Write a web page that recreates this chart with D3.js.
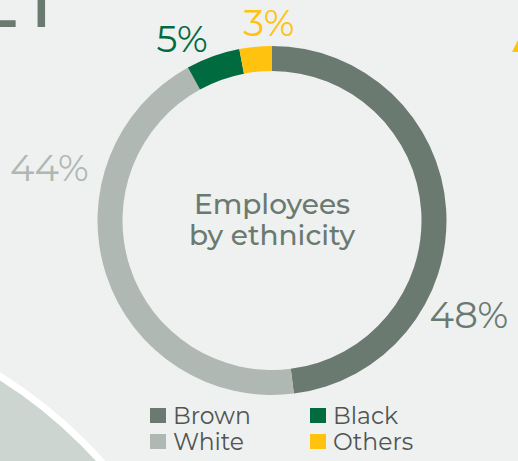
<!DOCTYPE html>
<html>
<head>
<meta charset="utf-8">
<script src="https://cdn.jsdelivr.net/npm/d3@7"></script>
<style>
  html, body { margin: 0; padding: 0; background: #eff1f0; }
  svg { display: block; }
  text { font-family: "Montserrat", "Noto Sans", "Open Sans", sans-serif; }
</style>
</head>
<body>
<svg id="chart" width="518" height="461"></svg>
<script>
// Workforce split by ethnicity (percent of employees)
const categories = ["Brown", "White", "Black", "Others"];
const shares = [48, 44, 5, 3];
const colors = ["#6b7a71", "#b0b8b4", "#006b3f", "#ffc20e"];
const labels = ["48%", "44%", "5%", "3%"];
const titleLines = ["Employees", "by ethnicity"];

const W = 518, H = 461;
const svg = d3.select("#chart");

// Decorative background shapes
svg.append("rect").attr("width", W).attr("height", H).attr("fill", "#eff1f0");
svg.append("circle")
  .attr("cx", -246).attr("cy", 771).attr("r", 465)
  .attr("fill", "#cdd5d0").attr("stroke", "#ffffff").attr("stroke-width", 7);
svg.append("text")
  .attr("x", 57).attr("y", 27)
  .attr("text-anchor", "end")
  .attr("font-size", 104).attr("font-weight", 400)
  .attr("fill", "#6b7a71")
  .text("21");
svg.append("path")
  .attr("d", "M512,52 L518,40 L518,52 Z")
  .attr("fill", "#ffc20e");

// Donut
const cx = 272, cy = 220.5;
const outerR = 174.5, innerR = 149.5;
const g = svg.append("g").attr("transform", `translate(${cx},${cy})`);

const pie = d3.pie().sort(null).value(d => d.value);
const arcs = pie(categories.map((c, i) => ({ name: c, value: shares[i], color: colors[i], label: labels[i] })));
const arc = d3.arc().innerRadius(innerR).outerRadius(outerR);

g.selectAll("path.slice")
  .data(arcs)
  .join("path")
  .attr("class", "slice")
  .attr("d", arc)
  .attr("fill", d => d.data.color);

// Percentage labels set outside the ring; angle offset (deg) and radius per slice
const labelPlacement = {
  Brown:  { shift: 29,  r: 218 },
  White:  { shift: 31.5, r: 229 },
  Black:  { shift: -6.5, r: 203 },
  Others: { shift: 4.5, r: 198 }
};
g.selectAll("text.pct")
  .data(arcs)
  .join("text")
  .attr("class", "pct")
  .attr("x", d => {
    const p = labelPlacement[d.data.name];
    const a = (d.startAngle + d.endAngle) / 2 + p.shift * Math.PI / 180;
    return Math.sin(a) * p.r;
  })
  .attr("y", d => {
    const p = labelPlacement[d.data.name];
    const a = (d.startAngle + d.endAngle) / 2 + p.shift * Math.PI / 180;
    return -Math.cos(a) * p.r;
  })
  .attr("text-anchor", "middle")
  .attr("dominant-baseline", "central")
  .attr("font-size", 37)
  .attr("font-weight", 400)
  .attr("fill", d => d.data.color)
  .text(d => d.data.label);

// Centre title
g.selectAll("text.title")
  .data(titleLines)
  .join("text")
  .attr("class", "title")
  .attr("x", 0)
  .attr("y", (d, i) => -7 + i * 31)
  .attr("text-anchor", "middle")
  .attr("font-size", 28)
  .attr("font-weight", 500)
  .attr("fill", "#6b7a71")
  .text(d => d);

// Legend: two columns, two rows (Brown, Black / White, Others)
const legendPos = { Brown: [0, 0], Black: [160, 0], White: [0, 26], Others: [160, 26] };
const legend = svg.append("g").attr("transform", "translate(150,407)");
const item = legend.selectAll("g.item")
  .data(categories.map((c, i) => ({ name: c, color: colors[i] })))
  .join("g")
  .attr("class", "item")
  .attr("transform", d => `translate(${legendPos[d.name][0]},${legendPos[d.name][1]})`);
item.append("rect")
  .attr("x", 0).attr("y", 1)
  .attr("width", 16).attr("height", 15)
  .attr("fill", d => d.color);
item.append("text")
  .attr("x", 23).attr("y", 17)
  .attr("font-size", 23.5)
  .attr("font-weight", 400)
  .attr("fill", "#505553")
  .text(d => d.name);
</script>
</body>
</html>
